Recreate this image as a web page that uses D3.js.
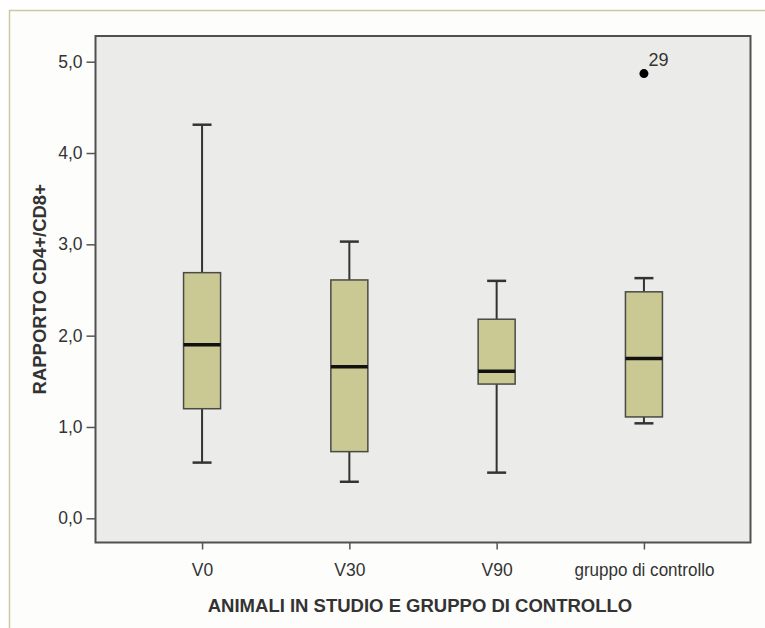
<!DOCTYPE html>
<html>
<head>
<meta charset="utf-8">
<script src="https://cdn.jsdelivr.net/npm/d3@7/dist/d3.min.js"></script>
<style>
  html, body { margin: 0; padding: 0; background: #ffffff; }
  svg { display: block; }
  text { font-family: "Liberation Sans", Arial, Helvetica, sans-serif; fill: #333; }
</style>
</head>
<body>
<svg id="chart" width="765" height="628"></svg>
<script>
// Gruppi e statistiche del box plot (min, Q1, mediana, Q3, max)
const groups  = ["V0", "V30", "V90", "gruppo di controllo"];
const whiskLo = [0.61, 0.40, 0.50, 1.04];
const q1      = [1.20, 0.73, 1.47, 1.11];
const median  = [1.90, 1.66, 1.61, 1.75];
const q3      = [2.69, 2.61, 2.18, 2.48];
const whiskHi = [4.31, 3.03, 2.60, 2.63];

// Valori anomali
const outlierGroup = ["gruppo di controllo"];
const outlierValue = [4.87];
const outlierLabel = ["29"];

const yTicks = [0, 1, 2, 3, 4, 5];
const yTitle = "RAPPORTO CD4+/CD8+";
const xTitle = "ANIMALI IN STUDIO E GRUPPO DI CONTROLLO";

const svg = d3.select("#chart");
const W = 765, H = 628;
const plot = { left: 95.5, right: 750.5, top: 36, bottom: 542.5 };

// Cornice esterna
svg.append("rect").attr("x", 9.5).attr("y", 10.5)
  .attr("width", W).attr("height", H)
  .attr("fill", "#fdfdfc").attr("stroke", "#cdc8a2").attr("stroke-width", 1.5);

const y = d3.scaleLinear().domain([0, 5]).range([518.3, 61.7]);
const x = d3.scalePoint().domain(groups).range([plot.left, plot.right]).padding(0.7235);

// Area del grafico
svg.append("rect")
  .attr("x", plot.left).attr("y", plot.top)
  .attr("width", plot.right - plot.left).attr("height", plot.bottom - plot.top)
  .attr("fill", "#ebebe9");

const data = groups.map((g, i) => ({
  g, lo: whiskLo[i], q1: q1[i], med: median[i], q3: q3[i], hi: whiskHi[i]
}));

const boxW = 37, capW = 19;
const gBox = svg.append("g").selectAll("g").data(data).join("g");

// Baffi
gBox.append("line")
  .attr("x1", d => x(d.g)).attr("x2", d => x(d.g))
  .attr("y1", d => y(d.hi)).attr("y2", d => y(d.q3))
  .attr("stroke", "#333").attr("stroke-width", 2);
gBox.append("line")
  .attr("x1", d => x(d.g)).attr("x2", d => x(d.g))
  .attr("y1", d => y(d.q1)).attr("y2", d => y(d.lo))
  .attr("stroke", "#333").attr("stroke-width", 2);
gBox.append("line")
  .attr("x1", d => x(d.g) - capW / 2).attr("x2", d => x(d.g) + capW / 2)
  .attr("y1", d => y(d.hi)).attr("y2", d => y(d.hi))
  .attr("stroke", "#333").attr("stroke-width", 2.5);
gBox.append("line")
  .attr("x1", d => x(d.g) - capW / 2).attr("x2", d => x(d.g) + capW / 2)
  .attr("y1", d => y(d.lo)).attr("y2", d => y(d.lo))
  .attr("stroke", "#333").attr("stroke-width", 2.5);

// Scatole
gBox.append("rect")
  .attr("x", d => x(d.g) - boxW / 2).attr("width", boxW)
  .attr("y", d => y(d.q3)).attr("height", d => y(d.q1) - y(d.q3))
  .attr("fill", "#cbc993").attr("stroke", "#4a4a44").attr("stroke-width", 1.5);

// Mediane
gBox.append("line")
  .attr("x1", d => x(d.g) - boxW / 2).attr("x2", d => x(d.g) + boxW / 2)
  .attr("y1", d => y(d.med)).attr("y2", d => y(d.med))
  .attr("stroke", "#111").attr("stroke-width", 3.5);

// Valori anomali
outlierGroup.forEach((g, i) => {
  svg.append("circle").attr("cx", x(g)).attr("cy", y(outlierValue[i])).attr("r", 4.5)
    .attr("fill", "#000");
  svg.append("text").attr("x", x(g) + 4.5).attr("y", y(outlierValue[i]) - 8)
    .attr("font-size", 18).text(outlierLabel[i]);
});

// Bordo del grafico
svg.append("rect")
  .attr("x", plot.left).attr("y", plot.top)
  .attr("width", plot.right - plot.left).attr("height", plot.bottom - plot.top)
  .attr("fill", "none").attr("stroke", "#505050").attr("stroke-width", 2);

// Asse Y
const yAxis = svg.append("g").attr("transform", `translate(${plot.left},0)`)
  .call(d3.axisLeft(y).tickValues(yTicks).tickSize(9).tickPadding(4)
    .tickFormat(d => d3.format(".1f")(d).replace(".", ",")));
yAxis.select(".domain").remove();
yAxis.selectAll(".tick line").attr("stroke", "#555").attr("stroke-width", 1.5);
yAxis.selectAll(".tick text").attr("font-size", 17.5).attr("fill", "#333")
  .attr("font-family", "'Liberation Sans', Arial, sans-serif");

// Asse X
const xAxis = svg.append("g").attr("transform", `translate(0,${plot.bottom})`)
  .call(d3.axisBottom(x).tickSize(7).tickPadding(14));
xAxis.select(".domain").remove();
xAxis.selectAll(".tick line").attr("stroke", "#555").attr("stroke-width", 1.5);
xAxis.selectAll(".tick text").attr("font-size", 17.5).attr("fill", "#333")
  .attr("font-family", "'Liberation Sans', Arial, sans-serif")
  .each(function (d) {
    if (d === "gruppo di controllo") {
      d3.select(this).attr("textLength", 140).attr("lengthAdjust", "spacingAndGlyphs");
    }
  });

// Titoli degli assi
svg.append("text")
  .attr("transform", `translate(46,${(plot.top + plot.bottom) / 2}) rotate(-90)`)
  .attr("text-anchor", "middle").attr("font-weight", "bold").attr("font-size", 18.5)
  .text(yTitle);
svg.append("text")
  .attr("x", 420).attr("y", 612)
  .attr("text-anchor", "middle").attr("font-weight", "bold").attr("font-size", 18.5)
  .text(xTitle);
</script>
</body>
</html>
